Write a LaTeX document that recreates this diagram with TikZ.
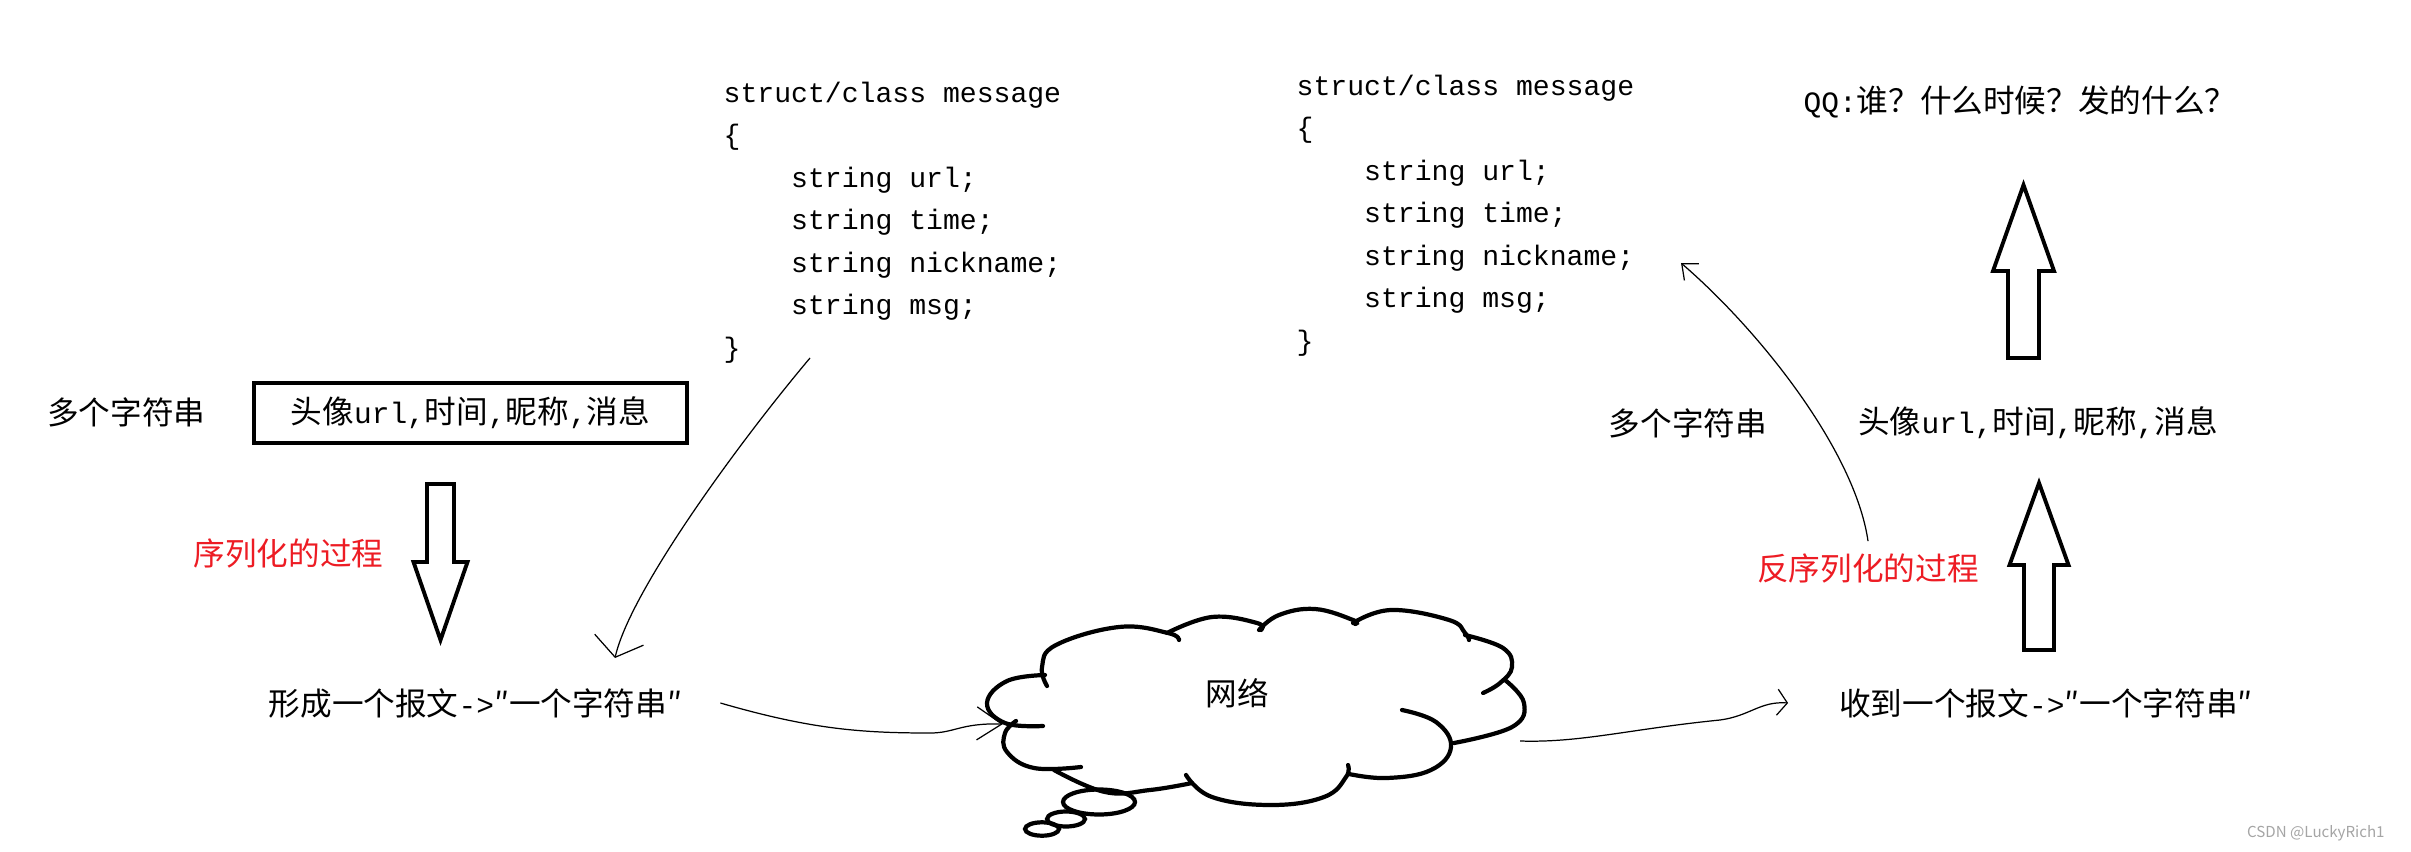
\documentclass[tikz,border=0pt]{standalone}
\usepackage{fontspec}
\setmainfont{Noto Sans CJK SC}
\setmonofont{Liberation Mono}
\usepackage{tikz}
\usetikzlibrary{arrows.meta, positioning, calc}
\definecolor{serRed}{RGB}{237,28,36}
\definecolor{markGray}{RGB}{165,165,165}
\newcommand{\lat}[1]{{\ttfamily\fontsize{8.4}{11}\selectfont #1}}

\tikzset{
	zh/.style={font=\fontsize{9}{11}\selectfont, inner sep=1pt},
	codeblock/.style={font=\ttfamily\fontsize{8}{12.1}\selectfont, align=left, inner sep=0pt},
	blockarrow/.style={line width=1.1pt, line join=miter},
	cloudline/.style={line width=1.2pt, line cap=round},
	link/.style={line width=0.35pt}
}

\begin{document}
\begin{tikzpicture}
	\path[fill=white, use as bounding box] (0,0) rectangle (24.11,8.51);

	% left side: serialize
	\node[zh, anchor=west] (manyL) at (0.43,4.39) {多个字符串};
	\node[zh, draw, line width=1pt, minimum width=4.33cm, minimum height=0.6cm] (fieldsL) at (4.705,4.38) {头像\lat{url,}时间\lat{,}昵称\lat{,}消息};
	\node[zh, text=serRed] (serLabel) at (2.885,2.98) {序列化的过程};
	\node[zh] (msgL) at (4.755,1.48) {形成一个报文\lat{->}″一个字符串″};

	\node[codeblock, anchor=north west] (codeL) at (7.23,7.70) {struct/class message\\\{\\\phantom{xxxx}string url;\\\phantom{xxxx}string time;\\\phantom{xxxx}string nickname;\\\phantom{xxxx}string msg;\\\}};
	\node[codeblock, anchor=north west] (codeR) at (12.96,7.77) {struct/class message\\\{\\\phantom{xxxx}string url;\\\phantom{xxxx}string time;\\\phantom{xxxx}string nickname;\\\phantom{xxxx}string msg;\\\}};

	% network cloud
	\node[zh] (net) at (12.37,1.58) {网络};
	\draw[cloudline] plot[smooth, tension=0.7] coordinates {(10.45,1.76) (10.07,1.70) (9.87,1.48) (10.05,1.28) (10.43,1.25)};
	\draw[cloudline] plot[smooth, tension=0.7] coordinates {(10.47,1.65) (10.42,1.84) (10.56,2.06) (11.19,2.24) (11.68,2.18) (11.79,2.11)};
	\draw[cloudline] plot[smooth, tension=0.7] coordinates {(11.67,2.18) (12.12,2.34) (12.57,2.28) (12.61,2.21)};
	\draw[cloudline] plot[smooth, tension=0.7] coordinates {(12.59,2.21) (12.79,2.36) (13.15,2.42) (13.53,2.31) (13.55,2.27)};
	\draw[cloudline] plot[smooth, tension=0.7] coordinates {(13.53,2.28) (13.91,2.41) (14.49,2.31) (14.65,2.18) (14.69,2.11)};
	\draw[cloudline] plot[smooth, tension=0.7] coordinates {(14.65,2.16) (15.03,2.03) (15.12,1.84) (15.00,1.68) (14.83,1.58)};
	\draw[cloudline] plot[smooth, tension=0.7] coordinates {(15.05,1.71) (15.24,1.48) (15.12,1.24) (14.54,1.08)};
	\draw[cloudline] plot[smooth, tension=0.7] coordinates {(14.02,1.41) (14.36,1.29) (14.51,1.04) (14.31,0.81) (13.87,0.73) (13.49,0.77)};
	\draw[cloudline] plot[smooth, tension=0.7] coordinates {(13.48,0.86) (13.46,0.74) (13.24,0.54) (12.71,0.46) (12.12,0.54) (11.86,0.76)};
	\draw[cloudline] plot[smooth, tension=0.7] coordinates {(11.92,0.68) (11.50,0.61) (11.05,0.59) (10.54,0.81)};
	\draw[cloudline] plot[smooth, tension=0.7] coordinates {(10.81,0.84) (10.34,0.83) (10.07,0.99) (10.05,1.18) (10.16,1.30)};
	\draw[cloudline] (10.99,0.49) ellipse [x radius=0.36, y radius=0.125];
	\draw[cloudline] (10.66,0.32) ellipse [x radius=0.19, y radius=0.075];
	\draw[cloudline] (10.42,0.22) ellipse [x radius=0.17, y radius=0.067];

	% right side: deserialize
	\node[zh] (msgR) at (20.46,1.48) {收到一个报文\lat{->}″一个字符串″};
	\node[zh, text=serRed] (deserLabel) at (18.68,2.83) {反序列化的过程};
	\node[zh] (manyR) at (16.88,4.28) {多个字符串};
	\node[zh] (fieldsR) at (20.38,4.28) {头像\lat{url,}时间\lat{,}昵称\lat{,}消息};
	\node[zh] (qq) at (20.20,7.49) {\lat{QQ:}谁？什么时候？发的什么？};

	\node[font=\fontsize{4.3}{5}\selectfont, text=markGray, anchor=east] (mark) at (23.97,0.18) {CSDN @LuckyRich1};

	% block arrows
	\foreach \x/\ya/\yb/\yc/\s/\h in {4.405/3.67/2.89/2.11/0.135/0.27, 20.39/2.01/2.86/3.68/0.15/0.295, 20.235/4.93/5.80/6.66/0.155/0.305}
		\draw[blockarrow] (\x-\s,\ya) -- (\x-\s,\yb) -- (\x-\h,\yb) -- (\x,\yc) -- (\x+\h,\yb) -- (\x+\s,\yb) -- (\x+\s,\ya) -- cycle;

	% hand drawn connectors
	\coordinate (serFrom) at (8.10,4.93);
	\coordinate (serTo) at (6.15,1.93);
	\coordinate (toNet) at (10.03,1.27);
	\coordinate (fromNet) at (15.20,1.10);
	\coordinate (nickTo) at (16.81,5.88);
	\draw[link, -{Straight Barb[length=1.8mm,width=5mm]}] (serFrom) .. controls (7.4,4.1) and (6.3,2.6) .. (serTo);
	\draw[link, -{Straight Barb[length=2.5mm,width=3.3mm]}] ([xshift=3.4mm]msgL.east) .. controls (8.1,1.22) and (8.6,1.18) .. (9.3,1.18) .. controls (9.55,1.18) and (9.6,1.28) .. (toNet);
	\draw[link, -{Straight Barb[length=1mm,width=2.6mm]}] (fromNet) .. controls (15.8,1.08) and (16.3,1.22) .. (17.2,1.31) .. controls (17.5,1.35) and (17.6,1.50) .. ([xshift=-4.7mm]msgR.west);
	\draw[link, -{Straight Barb[length=1.3mm,width=2.2mm]}] ([yshift=0.8mm]deserLabel.north) .. controls (18.55,4.0) and (17.6,5.2) .. (nickTo);
\end{tikzpicture}
\end{document}
